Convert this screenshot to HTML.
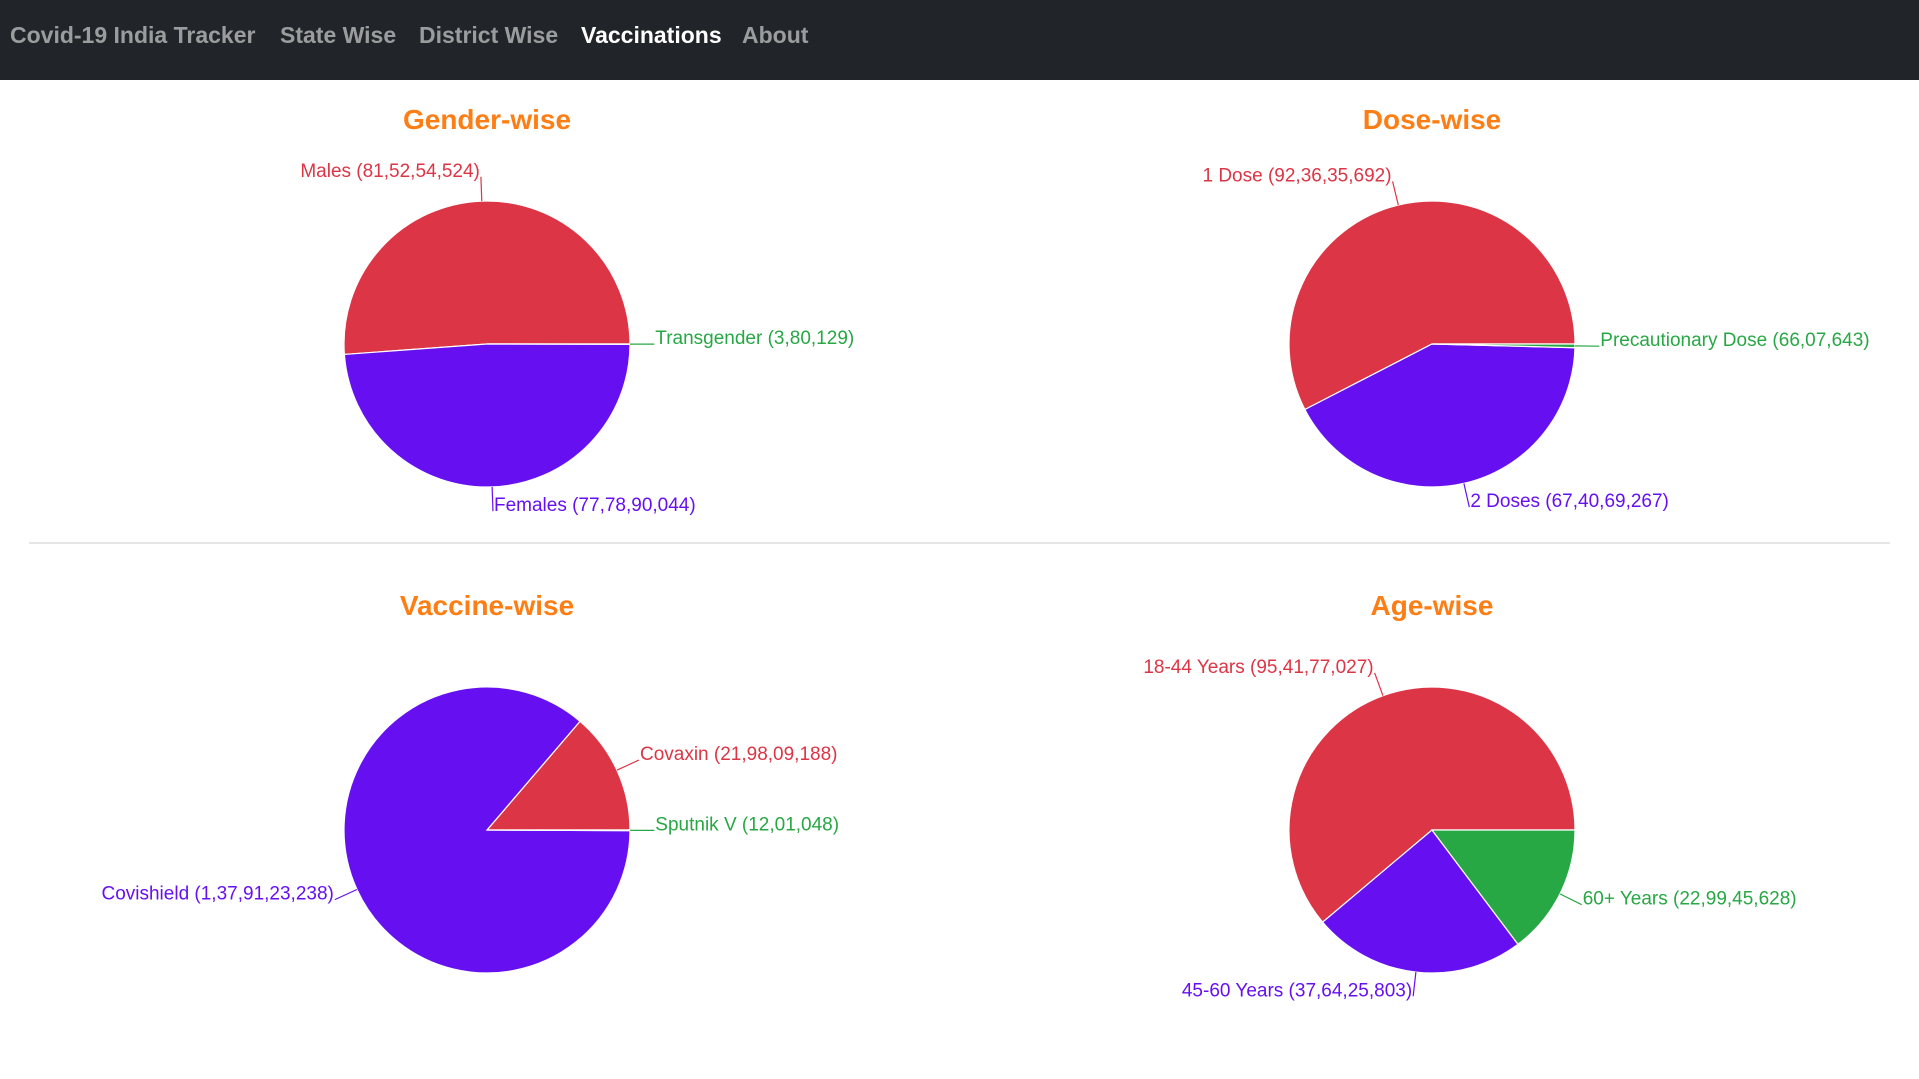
<!DOCTYPE html>
<html><head><meta charset="utf-8">
<style>
html,body{margin:0;padding:0;width:1919px;height:1079px;overflow:hidden;background:#fff;font-family:"Liberation Sans",sans-serif}
#nav{position:absolute;left:0;top:0;width:1919px;height:80px;background:#212529}
.nav-item{position:absolute;top:22px;font-size:23px;font-weight:bold;color:rgba(255,255,255,.55);white-space:nowrap}
.active{color:#fff}
svg{position:absolute;left:0;top:0}
</style></head><body>
<div id="nav">
<span class="nav-item" style="left:10px">Covid-19 India Tracker</span>
<span class="nav-item" style="left:280px">State Wise</span>
<span class="nav-item" style="left:419px">District Wise</span>
<span class="nav-item active" style="left:581px">Vaccinations</span>
<span class="nav-item" style="left:742px">About</span>
</div>
<svg id="chart" width="1919" height="1079">
<line x1="29" y1="543" x2="1890" y2="543" stroke="#ddd" stroke-width="1.5"/>
</svg>
<script>
const genderLabels=["Males","Females","Transgender"];
const genderValues=[815254524,777890044,380129];
const doseLabels=["1 Dose","2 Doses","Precautionary Dose"];
const doseValues=[923635692,674069267,6607643];
const vaccineLabels=["Covaxin","Covishield","Sputnik V"];
const vaccineValues=[219809188,1379123238,1201048];
const ageLabels=["18-44 Years","45-60 Years","60+ Years"];
const ageValues=[954177027,376425803,229945628];
const colors=["#dc3545","#6610f2","#28a745"];
const NS="http://www.w3.org/2000/svg";
const svg=document.getElementById('chart');
function fmt(n){let s=String(n);let last=s.slice(-3),rest=s.slice(0,-3);if(rest)rest=rest.replace(/\B(?=(\d{2})+(?!\d))/g,",")+",";return rest+last;}
function mk(tag,attrs){const e=document.createElementNS(NS,tag);for(const k in attrs)e.setAttribute(k,attrs[k]);svg.appendChild(e);return e;}
function pie(name,title,cx,cy,r,labels,values){
  const t=mk('text',{x:cx,y:cy-215,'text-anchor':'middle','font-size':'28','font-weight':'bold','fill':'#fd7e14','font-family':'Liberation Sans, sans-serif'});
  t.textContent=title;
  
  
  const total=values.reduce((a,b)=>a+b,0);
  let a0=0;
  values.forEach((v,i)=>{
    const a1=a0+v/total*2*Math.PI;
    const x0=cx+r*Math.cos(a0),y0=cy-r*Math.sin(a0),x1=cx+r*Math.cos(a1),y1=cy-r*Math.sin(a1);
    const large=(a1-a0)>Math.PI?1:0;
    const p=mk('path',{d:`M${cx},${cy}L${x0},${y0}A${r},${r} 0 ${large} 0 ${x1},${y1}Z`,fill:colors[i],stroke:'#fff','stroke-width':'1.2'});
    
    
    const m=(a0+a1)/2,c=Math.cos(m),s=Math.sin(m);
    const ex=cx+r*c,ey=cy-r*s,ox=cx+r*1.17*c,oy=cy-r*1.17*s;
    const ln=mk('line',{x1:ex,y1:ey,x2:ox,y2:oy,stroke:colors[i],'stroke-width':'1.2'});
    
    
    const lt=mk('text',{x:ox+(c>=0?1:-1),y:oy-5,'text-anchor':c>=0?'start':'end','dominant-baseline':'middle','font-size':'19',fill:colors[i]});
    lt.textContent=labels[i]+" ("+fmt(v)+")";
    
    
    a0=a1;
  });
}
pie('gender','Gender-wise',487,344,143,genderLabels,genderValues);
pie('dose','Dose-wise',1432,344,143,doseLabels,doseValues);
pie('vaccine','Vaccine-wise',487,830,143,vaccineLabels,vaccineValues);
pie('age','Age-wise',1432,830,143,ageLabels,ageValues);
</script>
</body></html>
